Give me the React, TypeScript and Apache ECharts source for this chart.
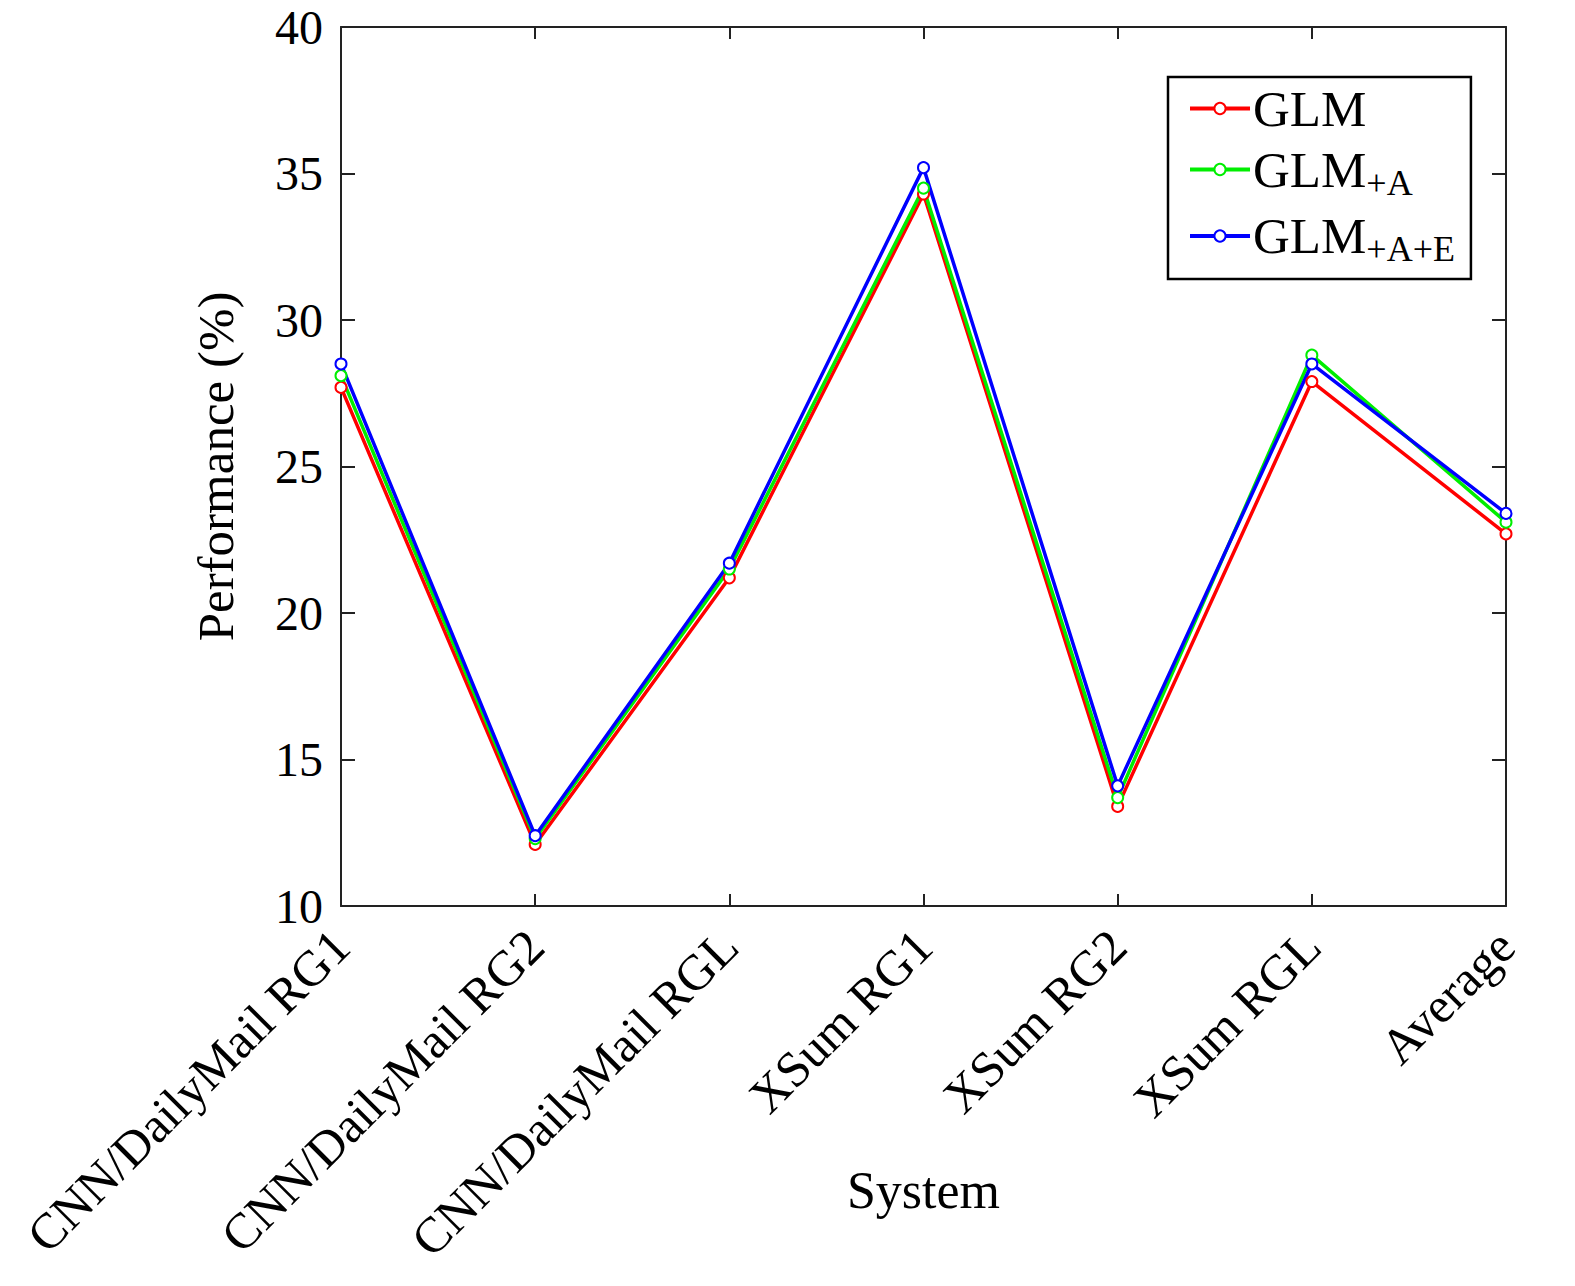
import React, { useEffect, useRef } from "react";
import * as echarts from "echarts";

const categories = [
  "CNN/DailyMail RG1",
  "CNN/DailyMail RG2",
  "CNN/DailyMail RGL",
  "XSum RG1",
  "XSum RG2",
  "XSum RGL",
  "Average",
];
const glm = [27.7, 12.1, 21.2, 34.3, 13.4, 27.9, 22.7];
const glmA = [28.1, 12.3, 21.5, 34.5, 13.7, 28.8, 23.1];
const glmAE = [28.5, 12.4, 21.7, 35.2, 14.1, 28.5, 23.4];
const seriesNames = ["GLM", "GLM+A", "GLM+A+E"];
const colors = ["#ff0000", "#00ee00", "#0000ff"];

const FONT = "'Liberation Serif', 'Times New Roman', serif";

export default function App() {
  const ref = useRef<HTMLDivElement>(null);
  useEffect(() => {
    const chart = echarts.init(ref.current!, null, { renderer: "svg" });
    const mk = (name: string, data: number[], color: string) => ({
      name,
      type: "line",
      data,
      symbol: "emptyCircle",
      symbolSize: 11,
      lineStyle: { color, width: 3.5 },
      itemStyle: { color, borderColor: color, borderWidth: 3 },
      z: 3,
    });
    chart.setOption({
      animation: false,
      backgroundColor: "#ffffff",
      textStyle: { fontFamily: FONT, color: "#000" },
      grid: { left: 341, right: 69, top: 27, bottom: 380, containLabel: false },
      legend: {
        orient: "vertical",
        left: 1168,
        top: 77,
        padding: [6, 16, 12, 20],
        itemGap: 10,
        itemWidth: 60,
        itemHeight: 14,
        borderColor: "#000",
        borderWidth: 2.5,
        backgroundColor: "#fff",
        data: seriesNames,
        lineStyle: { width: 4 },
        itemStyle: { borderWidth: 3 },
        formatter: (name: string) => {
          if (name === "GLM") return "{m|GLM}";
          return "{m|GLM}{s|" + name.slice(3) + "}";
        },
        textStyle: {
          fontFamily: FONT,
          color: "#000",
          fontSize: 51,
          padding: [0, 0, 0, -2],
          rich: {
            m: { fontFamily: FONT, fontSize: 51, color: "#000", lineHeight: 54 },
            s: {
              fontFamily: FONT,
              fontSize: 36,
              color: "#000",
              verticalAlign: "bottom",
              padding: [26, 0, 0, 0],
            },
          },
        },
      },
      xAxis: [
        {
          type: "category",
          data: categories,
          boundaryGap: false,
          name: "System",
          nameLocation: "middle",
          nameGap: 258,
          nameMoveOverlap: false,
          nameTextStyle: { fontFamily: FONT, fontSize: 52, color: "#000" },
          axisLine: { lineStyle: { color: "#222", width: 2 } },
          axisTick: { inside: true, length: 12, lineStyle: { color: "#222", width: 2 } },
          axisLabel: {
            interval: 0,
            rotate: 45,
            fontFamily: FONT,
            fontSize: 50,
            color: "#000",
            margin: 32,
          },
          splitLine: { show: false },
        },
        {
          type: "category",
          data: categories,
          boundaryGap: false,
          position: "top",
          axisLine: { lineStyle: { color: "#222", width: 2 } },
          axisTick: { inside: true, length: 12, lineStyle: { color: "#222", width: 2 } },
          axisLabel: { show: false },
          splitLine: { show: false },
        },
      ],
      yAxis: [
        {
          type: "value",
          min: 10,
          max: 40,
          interval: 5,
          name: "Performance (%)",
          nameLocation: "middle",
          nameGap: 100,
          nameMoveOverlap: false,
          nameTextStyle: { fontFamily: FONT, fontSize: 51, color: "#000" },
          axisLine: { show: true, lineStyle: { color: "#222", width: 2 } },
          axisTick: { show: true, inside: true, length: 14, lineStyle: { color: "#222", width: 2 } },
          axisLabel: {
            fontFamily: FONT,
            fontSize: 48,
            color: "#000",
            margin: 18,
          },
          splitLine: { show: false },
        },
        {
          type: "value",
          min: 10,
          max: 40,
          interval: 5,
          position: "right",
          axisLine: { show: true, lineStyle: { color: "#222", width: 2 } },
          axisTick: { show: true, inside: true, length: 14, lineStyle: { color: "#222", width: 2 } },
          axisLabel: { show: false },
          splitLine: { show: false },
        },
      ],
      series: [
        mk(seriesNames[0], glm, colors[0]),
        mk(seriesNames[1], glmA, colors[1]),
        mk(seriesNames[2], glmAE, colors[2]),
      ],
    });
    return () => chart.dispose();
  }, []);
  return (
    <div
      ref={ref}
      style={{ position: "fixed", left: 0, top: 0, width: 1575, height: 1286 }}
    />
  );
}
